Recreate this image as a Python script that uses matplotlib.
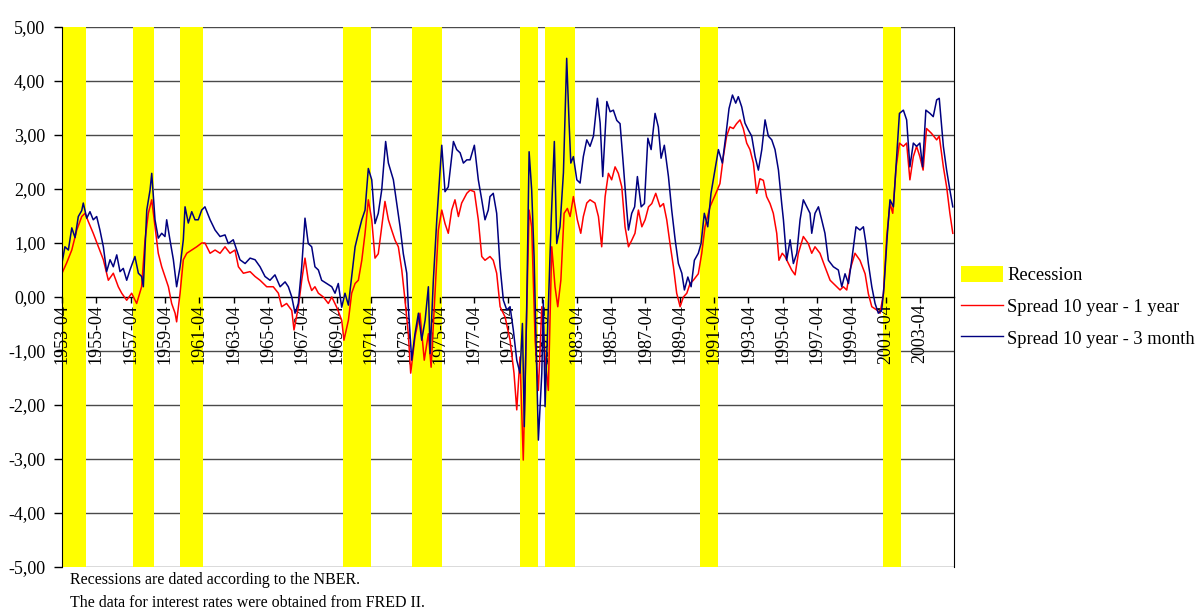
import matplotlib
matplotlib.use("Agg")
import matplotlib.pyplot as plt
from matplotlib.patches import Patch
from matplotlib.lines import Line2D

# ---------------- data ----------------
# Spread 10 year - 3 month (decimal year, value)
t_3m = [1953.25, 1953.42, 1953.62, 1953.82, 1954.01, 1954.20, 1954.40, 1954.49, 1954.69, 1954.88,
        1955.07, 1955.27, 1955.46, 1955.66, 1955.85, 1956.05, 1956.24, 1956.44, 1956.63, 1956.82,
        1957.02, 1957.21, 1957.50, 1957.70, 1957.89, 1957.99, 1958.19, 1958.38, 1958.48, 1958.67,
        1958.86, 1959.06, 1959.25, 1959.35, 1959.54, 1959.74, 1959.93, 1960.13, 1960.32, 1960.42,
        1960.61, 1960.81, 1961.00, 1961.19, 1961.39, 1961.58, 1961.88, 1962.17, 1962.46, 1962.75,
        1962.94, 1963.23, 1963.43, 1963.62, 1963.92, 1964.21, 1964.50, 1964.79, 1965.08, 1965.37,
        1965.66, 1965.96, 1966.25, 1966.44, 1966.64, 1966.83, 1967.02, 1967.22, 1967.41, 1967.60,
        1967.80, 1967.99, 1968.19, 1968.38, 1968.67, 1968.97, 1969.16, 1969.35, 1969.55, 1969.74,
        1969.94, 1970.13, 1970.33, 1970.52, 1970.72, 1970.91, 1971.10, 1971.30, 1971.49, 1971.68,
        1971.88, 1972.11, 1972.27, 1972.56, 1972.76, 1972.95, 1973.14, 1973.34, 1973.43, 1973.63,
        1973.82, 1974.02, 1974.21, 1974.41, 1974.60, 1974.70, 1974.89, 1975.09, 1975.38, 1975.57,
        1975.76, 1976.06, 1976.25, 1976.45, 1976.64, 1976.84, 1977.03, 1977.28, 1977.51, 1977.71,
        1977.90, 1978.09, 1978.19, 1978.38, 1978.58, 1978.78, 1978.97, 1979.17, 1979.36, 1979.55,
        1979.75, 1979.94, 1980.08, 1980.19, 1980.33, 1980.47, 1980.62, 1980.76, 1980.92, 1981.01,
        1981.21, 1981.30, 1981.40, 1981.59, 1981.75, 1981.94, 1982.08, 1982.27, 1982.47, 1982.66,
        1982.80, 1982.90, 1983.05, 1983.25, 1983.44, 1983.63, 1983.83, 1984.02, 1984.22, 1984.45,
        1984.61, 1984.76, 1985.00, 1985.19, 1985.38, 1985.58, 1985.77, 1985.97, 1986.16, 1986.26,
        1986.45, 1986.62, 1986.78, 1987.00, 1987.19, 1987.39, 1987.58, 1987.81, 1988.00, 1988.16,
        1988.35, 1988.59, 1988.78, 1988.98, 1989.17, 1989.37, 1989.52, 1989.72, 1989.91, 1990.10,
        1990.33, 1990.49, 1990.68, 1990.88, 1991.07, 1991.30, 1991.50, 1991.73, 1991.93, 1992.12,
        1992.32, 1992.51, 1992.66, 1992.86, 1993.05, 1993.25, 1993.44, 1993.64, 1993.83, 1994.03,
        1994.22, 1994.41, 1994.61, 1994.80, 1995.00, 1995.19, 1995.29, 1995.48, 1995.68, 1995.87,
        1996.07, 1996.26, 1996.45, 1996.65, 1996.84, 1996.94, 1997.13, 1997.33, 1997.52, 1997.71,
        1997.91, 1998.20, 1998.49, 1998.69, 1998.88, 1999.08, 1999.27, 1999.52, 1999.75, 1999.95,
        2000.10, 2000.24, 2000.44, 2000.63, 2000.82, 2001.02, 2001.15, 2001.35, 2001.50, 2001.70,
        2001.89, 2002.05, 2002.28, 2002.47, 2002.66, 2002.86, 2003.05, 2003.24, 2003.40, 2003.59,
        2003.83, 2004.02, 2004.22, 2004.37, 2004.61, 2004.80, 2004.99, 2005.16]
v_3m = [0.63, 0.93, 0.87, 1.28, 1.10, 1.49, 1.60, 1.74, 1.46, 1.58,
        1.43, 1.49, 1.24, 0.93, 0.47, 0.69, 0.56, 0.78, 0.47, 0.53,
        0.31, 0.50, 0.75, 0.44, 0.38, 0.19, 1.61, 1.98, 2.29, 1.43,
        1.09, 1.18, 1.12, 1.43, 1.06, 0.69, 0.19, 0.56, 1.06, 1.67,
        1.37, 1.58, 1.43, 1.43, 1.61, 1.67, 1.43, 1.24, 1.12, 1.15,
        0.99, 1.06, 0.87, 0.69, 0.62, 0.72, 0.69, 0.56, 0.38, 0.31,
        0.41, 0.19, 0.28, 0.19, 0.00, -0.30, -0.12, 0.56, 1.46, 0.99,
        0.93, 0.56, 0.50, 0.31, 0.25, 0.19, 0.07, 0.25, -0.19, 0.07,
        -0.15, 0.38, 0.93, 1.18, 1.43, 1.61, 2.38, 2.17, 1.36, 1.55,
        1.98, 2.88, 2.48, 2.17, 1.73, 1.30, 0.80, 0.44, -0.18, -1.17,
        -0.68, -0.30, -0.80, -0.43, 0.19, -1.05, 0.31, 1.43, 2.81, 1.95,
        2.04, 2.88, 2.73, 2.67, 2.48, 2.54, 2.54, 2.81, 2.17, 1.80,
        1.43, 1.61, 1.86, 1.92, 1.55, 0.56, -0.06, -0.24, -0.18, -0.61,
        -1.17, -1.41, -0.49, -2.40, -0.18, 2.69, 1.98, 0.75, -1.41, -2.65,
        -1.41, -0.06, -2.03, -0.18, 1.36, 2.88, 0.99, 1.30, 2.30, 4.42,
        3.22, 2.48, 2.60, 2.17, 2.11, 2.60, 2.91, 2.79, 2.98, 3.68,
        3.22, 2.23, 3.62, 3.43, 3.46, 3.27, 3.21, 2.41, 1.61, 1.24,
        1.55, 1.67, 2.23, 1.67, 1.73, 2.94, 2.73, 3.40, 3.15, 2.57,
        2.81, 2.23, 1.61, 1.06, 0.62, 0.44, 0.13, 0.37, 0.19, 0.68,
        0.81, 0.99, 1.55, 1.30, 1.92, 2.35, 2.73, 2.48, 2.98, 3.49,
        3.74, 3.59, 3.71, 3.52, 3.22, 3.09, 2.98, 2.60, 2.35, 2.73,
        3.28, 2.98, 2.91, 2.73, 2.35, 1.73, 1.43, 0.68, 1.06, 0.62,
        0.81, 1.43, 1.80, 1.67, 1.55, 1.18, 1.55, 1.67, 1.43, 1.18,
        0.68, 0.56, 0.50, 0.19, 0.43, 0.25, 0.68, 1.30, 1.24, 1.30,
        0.99, 0.62, 0.19, -0.12, -0.30, -0.24, 0.19, 1.18, 1.80, 1.67,
        2.60, 3.40, 3.46, 3.28, 2.41, 2.85, 2.79, 2.85, 2.41, 3.46,
        3.40, 3.34, 3.65, 3.68, 2.79, 2.35, 1.98, 1.67]

# Spread 10 year - 1 year (decimal year, value)
t_1y = [1953.25, 1953.52, 1953.82, 1954.11, 1954.40, 1954.59, 1954.78, 1955.07, 1955.37, 1955.66,
        1955.95, 1956.24, 1956.53, 1956.73, 1957.02, 1957.31, 1957.60, 1957.89, 1958.09, 1958.28,
        1958.48, 1958.67, 1958.86, 1959.06, 1959.25, 1959.45, 1959.64, 1959.84, 1959.93, 1960.13,
        1960.32, 1960.52, 1960.81, 1961.10, 1961.39, 1961.58, 1961.88, 1962.17, 1962.46, 1962.75,
        1963.04, 1963.33, 1963.53, 1963.82, 1964.21, 1964.50, 1964.79, 1965.18, 1965.56, 1965.86,
        1966.05, 1966.34, 1966.64, 1966.77, 1967.02, 1967.22, 1967.41, 1967.60, 1967.80, 1967.99,
        1968.19, 1968.48, 1968.77, 1968.97, 1969.26, 1969.55, 1969.68, 1969.94, 1970.13, 1970.33,
        1970.52, 1970.72, 1970.91, 1971.10, 1971.30, 1971.49, 1971.68, 1971.88, 1972.07, 1972.27,
        1972.46, 1972.66, 1972.85, 1973.05, 1973.24, 1973.43, 1973.57, 1973.82, 1974.11, 1974.36,
        1974.60, 1974.76, 1974.99, 1975.18, 1975.38, 1975.57, 1975.76, 1975.96, 1976.15, 1976.35,
        1976.54, 1976.84, 1977.03, 1977.28, 1977.51, 1977.71, 1977.90, 1978.19, 1978.38, 1978.58,
        1978.78, 1979.07, 1979.36, 1979.59, 1979.75, 1979.94, 1980.13, 1980.29, 1980.47, 1980.62,
        1980.82, 1981.01, 1981.21, 1981.40, 1981.59, 1981.79, 1981.98, 1982.14, 1982.32, 1982.51,
        1982.70, 1982.86, 1983.05, 1983.28, 1983.48, 1983.63, 1983.83, 1984.02, 1984.31, 1984.51,
        1984.70, 1984.90, 1985.09, 1985.28, 1985.48, 1985.67, 1985.87, 1986.06, 1986.26, 1986.45,
        1986.64, 1986.84, 1987.04, 1987.23, 1987.43, 1987.62, 1987.85, 1988.10, 1988.30, 1988.49,
        1988.68, 1988.88, 1989.07, 1989.27, 1989.46, 1989.66, 1989.85, 1990.04, 1990.33, 1990.53,
        1990.72, 1991.01, 1991.30, 1991.59, 1991.79, 1991.98, 1992.17, 1992.37, 1992.56, 1992.76,
        1992.95, 1993.15, 1993.34, 1993.54, 1993.73, 1993.92, 1994.12, 1994.31, 1994.51, 1994.70,
        1994.90, 1995.03, 1995.22, 1995.38, 1995.58, 1995.77, 1995.97, 1996.16, 1996.45, 1996.74,
        1996.94, 1997.13, 1997.42, 1997.71, 1998.01, 1998.30, 1998.59, 1998.78, 1998.98, 1999.17,
        1999.46, 1999.75, 2000.05, 2000.24, 2000.44, 2000.73, 2000.92, 2001.12, 2001.31, 2001.50,
        2001.66, 2001.86, 2002.05, 2002.28, 2002.47, 2002.66, 2002.86, 2003.05, 2003.24, 2003.43,
        2003.63, 2003.92, 2004.22, 2004.37, 2004.61, 2004.80, 2004.99, 2005.16]
v_1y = [0.44, 0.63, 0.87, 1.24, 1.49, 1.55, 1.40, 1.18, 0.93, 0.69,
        0.31, 0.44, 0.19, 0.07, -0.06, 0.07, -0.12, 0.19, 1.06, 1.55,
        1.80, 1.30, 0.81, 0.56, 0.38, 0.19, -0.12, -0.30, -0.46, 0.07,
        0.69, 0.81, 0.87, 0.93, 1.00, 1.00, 0.81, 0.87, 0.81, 0.93,
        0.81, 0.87, 0.56, 0.44, 0.47, 0.38, 0.31, 0.19, 0.19, 0.07,
        -0.18, -0.12, -0.25, -0.61, -0.19, 0.31, 0.72, 0.31, 0.12, 0.19,
        0.07, 0.00, -0.12, 0.00, -0.19, -0.43, -0.80, -0.43, 0.07, 0.25,
        0.31, 0.68, 1.18, 1.80, 1.43, 0.72, 0.80, 1.30, 1.77, 1.43,
        1.24, 1.05, 0.93, 0.50, -0.06, -0.68, -1.41, -0.74, -0.30, -1.17,
        -0.68, -1.30, 0.07, 1.24, 1.61, 1.36, 1.18, 1.61, 1.80, 1.49,
        1.74, 1.92, 1.98, 1.95, 1.43, 0.75, 0.68, 0.75, 0.68, 0.44,
        -0.18, -0.37, -0.80, -1.41, -2.09, -1.11, -3.02, -0.80, 1.61, 1.30,
        -0.80, -1.73, -0.18, -1.11, -1.73, 0.93, 0.19, -0.18, 0.31, 1.55,
        1.64, 1.49, 1.86, 1.43, 1.18, 1.49, 1.74, 1.80, 1.74, 1.49,
        0.93, 1.86, 2.29, 2.17, 2.41, 2.29, 2.04, 1.30, 0.93, 1.05,
        1.18, 1.61, 1.30, 1.43, 1.67, 1.73, 1.92, 1.67, 1.73, 1.43,
        0.99, 0.56, 0.07, -0.18, 0.00, 0.07, 0.25, 0.31, 0.43, 0.81,
        1.30, 1.67, 1.88, 2.10, 2.60, 2.98, 3.15, 3.12, 3.21, 3.28,
        3.12, 2.85, 2.73, 2.48, 1.92, 2.19, 2.16, 1.86, 1.73, 1.55,
        1.18, 0.68, 0.81, 0.75, 0.62, 0.50, 0.41, 0.81, 1.12, 0.99,
        0.81, 0.93, 0.81, 0.56, 0.31, 0.22, 0.13, 0.19, 0.13, 0.50,
        0.81, 0.68, 0.43, 0.06, -0.18, -0.24, -0.30, 0.06, 1.12, 1.73,
        1.55, 2.41, 2.85, 2.79, 2.85, 2.17, 2.60, 2.79, 2.60, 2.35,
        3.12, 3.03, 2.91, 2.98, 2.41, 2.04, 1.55, 1.18]

# NBER recessions as shaded in the chart (start, end in decimal years)
rec_start = [1953.25, 1957.37, 1960.13, 1969.64, 1973.63, 1979.94, 1981.40, 1990.43, 2001.12]
rec_end   = [1954.65, 1958.63, 1961.48, 1971.24, 1975.41, 1981.01, 1983.15, 1991.46, 2002.13]

tick_years = list(range(1953, 2004, 2))
tick_labels = [f"{y}-04" for y in tick_years]
y_ticks = [5, 4, 3, 2, 1, 0, -1, -2, -3, -4, -5]
y_tick_labels = [f"{v:.2f}".replace(".", ",") for v in y_ticks]

series_names = ["Recession", "Spread 10 year - 1 year", "Spread 10 year - 3 month"]
notes = ["Recessions are dated according to the NBER.",
         "The data for interest rates were obtained from FRED II."]

# ---------------- plot ----------------
plt.rcParams['font.family'] = ['Liberation Serif', 'DejaVu Serif']

fig = plt.figure(figsize=(11.97, 6.12), dpi=100)
ax = fig.add_axes([62/1197, 45/612, (954-62)/1197, (567-27)/612])

x_lo, x_hi = 1953.25, 2005.23
ax.set_xlim(x_lo, x_hi)
ax.set_ylim(-5, 5)

grid_col = '#4a4a4a'
for yv in y_ticks:
    if yv != 0:
        ax.axhline(yv, color=grid_col, lw=1.0, zorder=1)

for s, e in zip(rec_start, rec_end):
    ax.axvspan(s, e, color='#FFFF00', lw=0, zorder=1.5)

ax.plot(t_1y, v_1y, color='#FF0000', lw=1.1, zorder=3)
ax.plot(t_3m, v_3m, color='#000080', lw=1.1, zorder=3.1)

ax.spines['top'].set_visible(False)
ax.spines['bottom'].set_position(('data', 0))
ax.spines['bottom'].set_color('black')
ax.spines['bottom'].set_linewidth(1.0)
ax.spines['bottom'].set_zorder(1)
ax.spines['left'].set_color('black')
ax.spines['left'].set_zorder(4)
ax.spines['right'].set_color('black')
ax.spines['right'].set_zorder(4)

ax.set_xticks([y + 0.25 for y in tick_years])
ax.set_xticklabels(tick_labels, rotation=90, fontsize=13)
ax.tick_params(axis='x', direction='out', length=4, width=1, pad=1, color='black')
ax.set_yticks(y_ticks)
ax.set_yticklabels(y_tick_labels, fontsize=13)
ax.tick_params(axis='y', direction='out', length=6, width=1, pad=6, color='black')

handles = [Patch(facecolor='#FFFF00', edgecolor='none'),
           Line2D([], [], color='#FF0000', lw=1.0),
           Line2D([], [], color='#000080', lw=1.0)]
fig.legend(handles, series_names, loc='upper left', bbox_to_anchor=(961/1197, 1 - 266/612),
           frameon=False, fontsize=13.3, handlelength=2.3, handleheight=0.95,
           handletextpad=0.2, labelspacing=0.72, borderpad=0, borderaxespad=0)

fig.text(70/1197, 1 - 580/612, notes[0], fontsize=11.5, va='center', ha='left')
fig.text(70/1197, 1 - 603/612, notes[1], fontsize=11.5, va='center', ha='left')

fig.savefig('out.png', dpi=100)
